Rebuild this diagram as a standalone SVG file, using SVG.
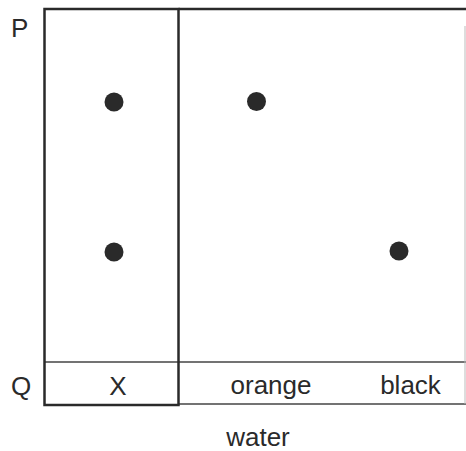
<svg xmlns="http://www.w3.org/2000/svg" width="466" height="451" viewBox="0 0 466 451">
<style>
.t{font-family:"Liberation Sans",Arial,sans-serif;font-size:26px;fill:#2a2a2a}
.thin{stroke:#444;stroke-width:1.5;fill:none}
.thick{stroke:#2a2a2a;stroke-width:2.5;fill:none}
.spot{fill:#2a2a2a}
</style>
<rect width="466" height="451" fill="#fff"/>
<g id="connectors">
<line class="thick" x1="178.5" y1="9" x2="466" y2="9"/>
<line class="thin" x1="178.5" y1="362" x2="466" y2="362"/>
<line class="thin" x1="44.5" y1="362" x2="178.5" y2="362"/>
<line class="thin" x1="178.5" y1="404" x2="466" y2="404"/>
<line stroke="#bbb" stroke-width="1" x1="465" y1="26" x2="465" y2="404"/>
</g>
<g id="strip-X">
<rect class="thick" x="44.5" y="9" width="134" height="396"/>
<circle class="spot" cx="114" cy="102" r="9.5"/>
<circle class="spot" cx="114" cy="252" r="9.5"/>
<text class="t" x="118" y="395" text-anchor="middle">X</text>
</g>
<g id="strip-orange">
<circle class="spot" cx="256.5" cy="101.5" r="9.5"/>
<text class="t" x="271" y="394" text-anchor="middle">orange</text>
</g>
<g id="strip-black">
<circle class="spot" cx="399" cy="251" r="9.5"/>
<text class="t" x="410.5" y="394" text-anchor="middle">black</text>
</g>
<g id="labels">
<text class="t" x="11" y="37">P</text>
<text class="t" x="11" y="395">Q</text>
<text class="t" x="258" y="446" text-anchor="middle">water</text>
</g>
</svg>
